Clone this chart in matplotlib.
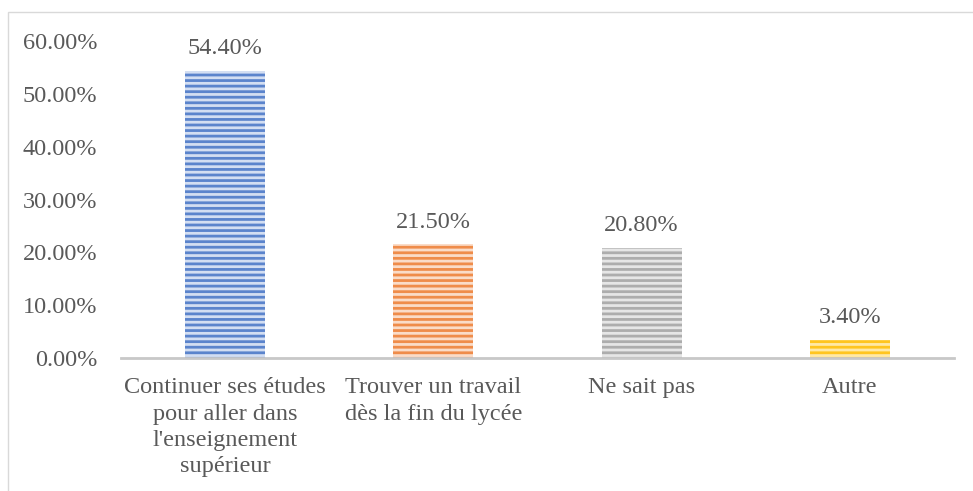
import matplotlib.pyplot as plt
import matplotlib as mpl
from matplotlib.patches import Rectangle

plt.rcParams['font.family'] = ['Liberation Serif', 'DejaVu Serif']
mpl.rcParams['hatch.linewidth'] = 2.0

# data
categories = ["Continuer ses études\npour aller dans\nl'enseignement\nsupérieur",
              "Trouver un travail\ndès la fin du lycée",
              "Ne sait pas",
              "Autre"]
values = [0.544, 0.215, 0.208, 0.034]
colors = ["#5B84CC", "#EF8C4A", "#ADADAD", "#FFC51F"]
faces = ["#D3DEF2", "#FADCC8", "#E6E6E6", "#FFE9A6"]
text_col = '#595959'

fig = plt.figure(figsize=(9.73, 4.91), dpi=100)
ax = fig.add_axes([121/973, 1-358/491, (954-121)/973, (358-41)/491])

x = range(len(categories))
for i in x:
    ax.bar(i, values[i], width=0.385, color=faces[i], edgecolor=colors[i],
           hatch='---', linewidth=0)
    ax.text(i, values[i] + 0.022, f"{values[i]*100:.2f}%", ha='center', va='bottom',
            fontsize=17.5, color=text_col)

ax.set_xlim(-0.5, 3.5)
ax.set_ylim(0, 0.6)
ax.set_yticks([0, 0.1, 0.2, 0.3, 0.4, 0.5, 0.6])
ax.set_yticklabels([f"{t*100:.2f}%" for t in ax.get_yticks()], fontsize=17.5, color=text_col)
ax.set_xticks(list(x))
ax.set_xticklabels(categories, fontsize=17.5, color=text_col, linespacing=1.32)
ax.tick_params(length=0, pad=14)
ax.tick_params(axis='y', pad=17)
for s in ['top', 'right', 'left']:
    ax.spines[s].set_visible(False)
ax.spines['bottom'].set_color('#C8C8C8')
ax.spines['bottom'].set_linewidth(2)

fig.patches.append(Rectangle((8/973, -0.1), 1.1, 1 - 12/491 + 0.1, transform=fig.transFigure,
                             fill=False, edgecolor='#D9D9D9', linewidth=1))

fig.savefig("out.png", dpi=100)
